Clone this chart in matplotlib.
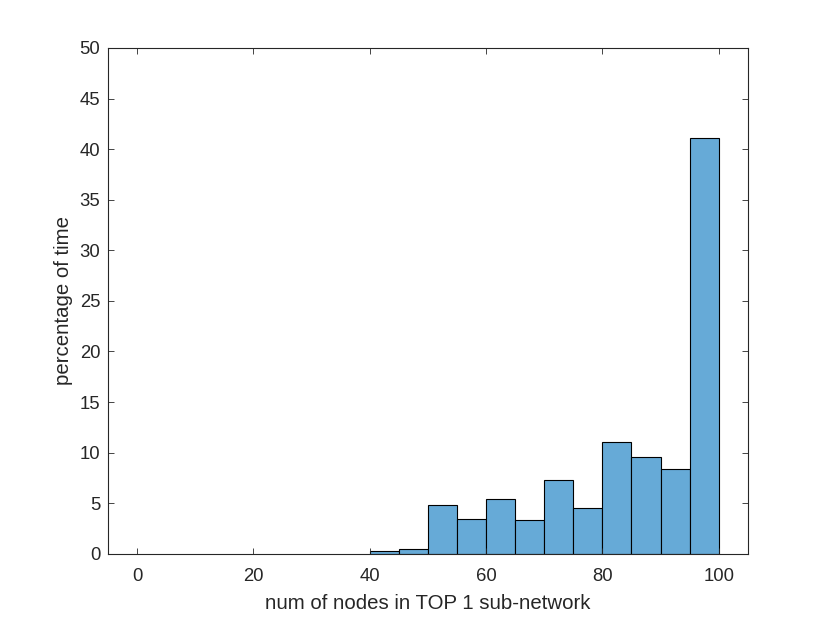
import numpy as np
import matplotlib
matplotlib.use("Agg")
import matplotlib.pyplot as plt

# histogram (bin width 5)
bin_left = [40, 45, 50, 55, 60, 65, 70, 75, 80, 85, 90, 95]
percent = [0.26, 0.49, 4.81, 3.49, 5.44, 3.33, 7.32, 4.52, 11.08, 9.59, 8.37, 41.1]
bin_width = 5

xticks = [0, 20, 40, 60, 80, 100]
yticks = [0, 5, 10, 15, 20, 25, 30, 35, 40, 45, 50]

plt.rcParams['font.family'] = ['Liberation Sans', 'DejaVu Sans']
axis_col = "#262626"

fig = plt.figure(figsize=(8.3, 6.23), dpi=100)
ax = fig.add_axes([0.13, 0.111, 0.771, 0.812])

ax.bar(bin_left, percent, width=bin_width, align="edge",
       color="#66AAD7", edgecolor="black", linewidth=0.8)

ax.set_xlim(-5, 105)
ax.set_ylim(0, 50)
ax.set_xticks(xticks)
ax.set_yticks(yticks)

ax.tick_params(direction="in", length=4.5, width=0.6, colors=axis_col,
               labelsize=13.3, top=True, right=True)
ax.tick_params(axis="x", pad=10)
ax.tick_params(axis="y", pad=5.5)
for s in ax.spines.values():
    s.set_color(axis_col)
    s.set_linewidth(0.8)

ax.set_xlabel("num of nodes in TOP 1 sub-network", fontsize=14.7, color=axis_col, labelpad=7)
ax.set_ylabel("percentage of time", fontsize=14.7, color=axis_col, labelpad=5)

fig.savefig("out.png", dpi=100)
